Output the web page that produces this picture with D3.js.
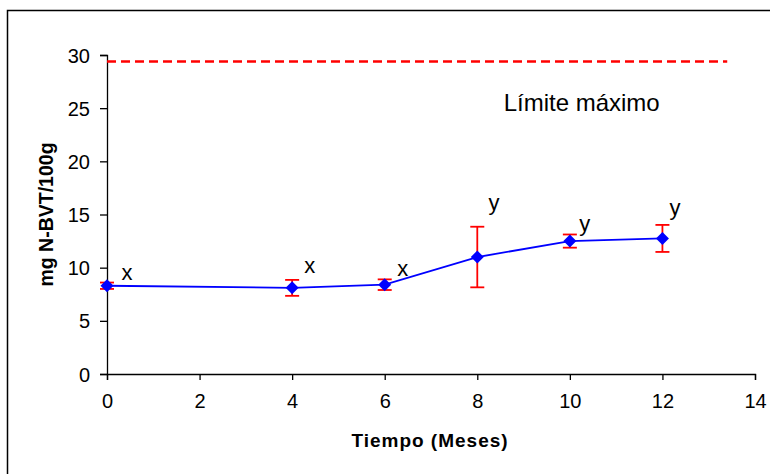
<!DOCTYPE html>
<html>
<head>
<meta charset="utf-8">
<script src="https://cdn.jsdelivr.net/npm/d3@7"></script>
<style>
  body { margin: 0; background: #fff; }
  svg { display: block; font-family: Arial, "Liberation Sans", sans-serif; }
</style>
</head>
<body>
<div id="chart"></div>
<script>
// data
var meses = [0, 4, 6, 8, 10, 12];
var nbvt = [8.3, 8.1, 8.4, 11.0, 12.5, 12.75];
var errores = [0.3, 0.75, 0.5, 2.85, 0.62, 1.27];
var letras = ["x", "x", "x", "y", "y", "y"];
var letraX = [0.43, 4.38, 6.39, 8.36, 10.32, 12.27];
var letraY = [9.4, 10.0, 9.8, 16.0, 14.0, 15.5];
var limite = 29.4;
var limiteHasta = 13.4;
var xTicks = [0, 2, 4, 6, 8, 10, 12, 14];
var yTicks = [0, 5, 10, 15, 20, 25, 30];

var width = 770, height = 474;

var svg = d3.select("#chart").append("svg")
    .attr("width", width).attr("height", height);

// outer frame (right and bottom edges fall outside the picture)
svg.append("rect")
    .attr("x", 7.5).attr("y", 10.5)
    .attr("width", 800).attr("height", 500)
    .attr("fill", "none").attr("stroke", "#000").attr("stroke-width", 1.5);

var x = d3.scaleLinear().domain([0, 14]).range([107, 755]);
var y = d3.scaleLinear().domain([0, 30]).range([374, 55]);

var g = svg.append("g");

var xAxis = g.append("g")
    .attr("transform", "translate(0," + y(0) + ")")
    .call(d3.axisBottom(x).tickValues(xTicks).tickSize(6).tickPadding(14).tickFormat(d3.format("d")));
var yAxis = g.append("g")
    .attr("transform", "translate(" + x(0) + ",0)")
    .call(d3.axisLeft(y).tickValues(yTicks).tickSize(7).tickPadding(10).tickFormat(d3.format("d")));

[xAxis, yAxis].forEach(function(a) {
  a.select(".domain").attr("stroke", "#000").attr("stroke-width", 1.3);
  a.selectAll(".tick line").attr("stroke", "#000").attr("stroke-width", 1.3);
  a.selectAll(".tick text")
      .attr("fill", "#000")
      .style("font-size", "20px")
      .style("font-family", "Arial, 'Liberation Sans', sans-serif");
});
yAxis.selectAll(".tick text").attr("dy", "0.35em");

// limite maximo
g.append("line")
    .attr("x1", x(0)).attr("x2", x(limiteHasta))
    .attr("y1", y(limite)).attr("y2", y(limite))
    .attr("stroke", "#ff0000").attr("stroke-width", 2.5)
    .attr("stroke-dasharray", "9,5");

g.append("text")
    .attr("x", x(8.57)).attr("y", y(25.5))
    .attr("dy", "0.35em")
    .style("font-size", "24px")
    .text("Límite máximo");

var pts = meses.map(function(m, i) {
  return {x: m, y: nbvt[i], e: errores[i]};
});

// line
g.append("path")
    .datum(pts)
    .attr("d", d3.line().x(function(d) { return x(d.x); }).y(function(d) { return y(d.y); }))
    .attr("fill", "none").attr("stroke", "#0000ff").attr("stroke-width", 1.8);

// error bars
var eb = g.selectAll(".err").data(pts).enter().append("g").attr("class", "err")
    .attr("stroke", "#ff0000").attr("stroke-width", 1.8);
eb.append("line")
    .attr("x1", function(d) { return x(d.x); }).attr("x2", function(d) { return x(d.x); })
    .attr("y1", function(d) { return y(d.y + d.e); }).attr("y2", function(d) { return y(d.y - d.e); });
eb.append("line")
    .attr("x1", function(d) { return x(d.x) - 7; }).attr("x2", function(d) { return x(d.x) + 7; })
    .attr("y1", function(d) { return y(d.y + d.e); }).attr("y2", function(d) { return y(d.y + d.e); });
eb.append("line")
    .attr("x1", function(d) { return x(d.x) - 7; }).attr("x2", function(d) { return x(d.x) + 7; })
    .attr("y1", function(d) { return y(d.y - d.e); }).attr("y2", function(d) { return y(d.y - d.e); });

// diamond markers
g.selectAll(".pt").data(pts).enter().append("path")
    .attr("class", "pt")
    .attr("transform", function(d) { return "translate(" + x(d.x) + "," + y(d.y) + ")"; })
    .attr("d", "M0,-6.5L6.5,0L0,6.5L-6.5,0Z")
    .attr("fill", "#0000ff");

// significance letters
g.selectAll(".letra").data(letras).enter().append("text")
    .attr("class", "letra")
    .attr("x", function(d, i) { return x(letraX[i]); })
    .attr("y", function(d, i) { return y(letraY[i]); })
    .attr("text-anchor", "middle")
    .attr("dy", "0.26em")
    .style("font-size", "22px")
    .text(function(d) { return d; });

// axis titles
svg.append("text")
    .attr("transform", "translate(53," + y(15) + ") rotate(-90)")
    .attr("text-anchor", "middle")
    .style("font-size", "19.5px").style("font-weight", "bold")
    .text("mg N-BVT/100g");

svg.append("text")
    .attr("x", 430).attr("y", 447)
    .attr("text-anchor", "middle")
    .style("font-size", "19px").style("font-weight", "bold")
    .style("letter-spacing", "1px")
    .text("Tiempo (Meses)");
</script>
</body>
</html>
